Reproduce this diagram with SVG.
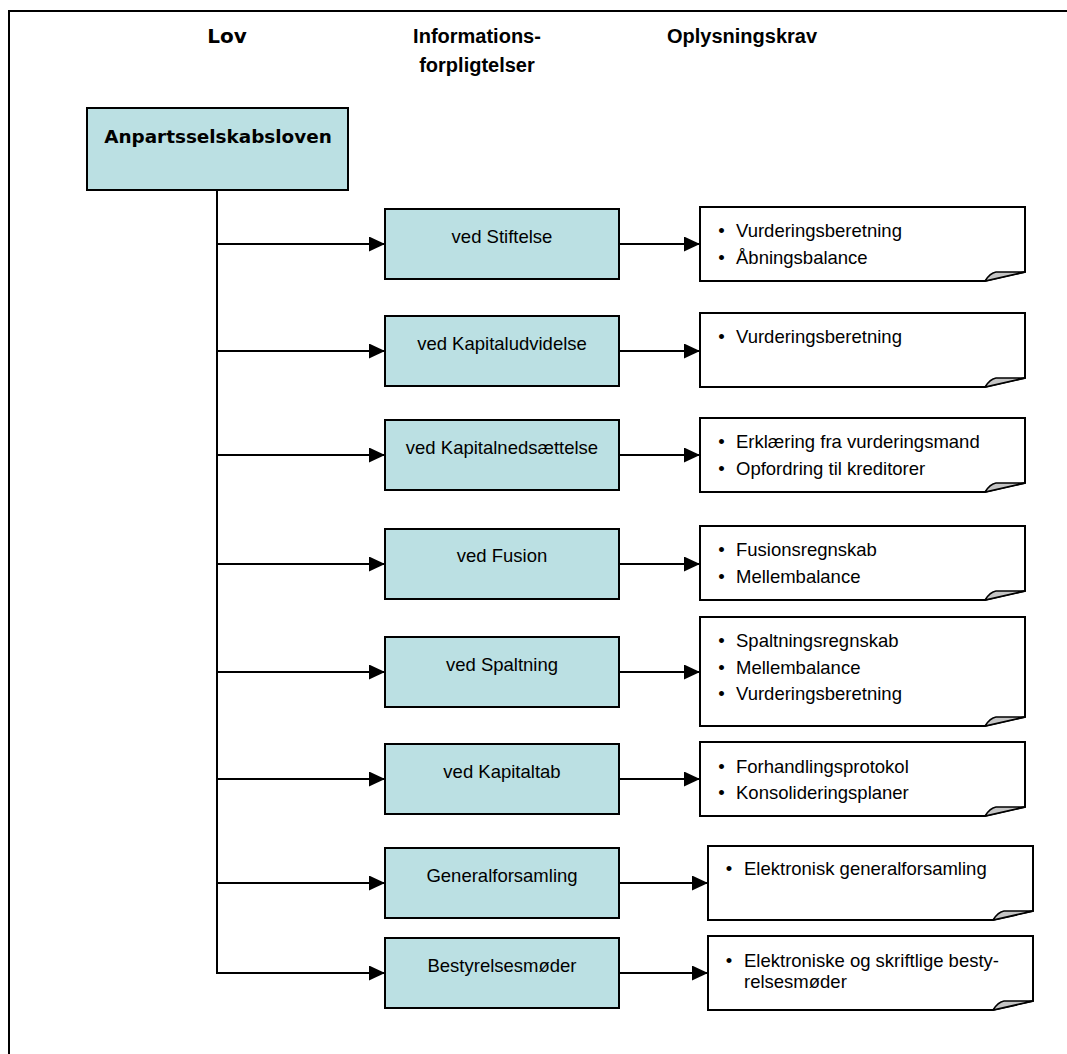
<svg xmlns="http://www.w3.org/2000/svg" width="1067" height="1054" viewBox="0 0 1067 1054">
<style>
.frame{fill:#ffffff;stroke:#000000;stroke-width:2}
.box{fill:#BBE0E3;stroke:#000000;stroke-width:2}
.note{fill:#ffffff;stroke:#000000;stroke-width:2;stroke-linejoin:miter}
.fold{fill:#C4C4C4;stroke:#000000;stroke-width:1.5;stroke-linejoin:round}
.head{font-family:"Liberation Sans",Arial,sans-serif;font-weight:bold;font-size:20px;fill:#000;text-anchor:middle}
.headv{font-family:"DejaVu Sans",Verdana,sans-serif;font-weight:bold;fill:#000;text-anchor:middle}
.lbl{font-family:"Liberation Sans",Arial,sans-serif;font-size:18.5px;fill:#000;text-anchor:middle}
.txt{font-family:"Liberation Sans",Arial,sans-serif;font-size:18.5px;fill:#000}
.bul{font-family:"Liberation Sans",Arial,sans-serif;font-size:18.5px;fill:#000;text-anchor:middle}
.con{fill:none;stroke:#000000;stroke-width:2}
</style>
<defs>
<marker id="arr" viewBox="0 0 16 15" refX="16" refY="7.5" markerWidth="16" markerHeight="15" markerUnits="userSpaceOnUse" orient="auto">
<path d="M0,0 L16,7.5 L0,15 Z" fill="#000"/>
</marker>
</defs>
<rect class="frame" x="9" y="11" width="1080" height="1070"/>
<g id="headers">
<text class="headv" x="227" y="43" font-size="20">Lov</text>
<text class="head" x="477" y="43">Informations-</text>
<text class="head" x="477" y="72">forpligtelser</text>
<text class="head" x="742" y="43" font-size="19.5">Oplysningskrav</text>
</g>
<g id="connectors">
<path class="con" d="M217,190 V973"/>
<path class="con" d="M217,244 H385" marker-end="url(#arr)"/>
<path class="con" d="M217,351 H385" marker-end="url(#arr)"/>
<path class="con" d="M217,455 H385" marker-end="url(#arr)"/>
<path class="con" d="M217,564 H385" marker-end="url(#arr)"/>
<path class="con" d="M217,672 H385" marker-end="url(#arr)"/>
<path class="con" d="M217,779 H385" marker-end="url(#arr)"/>
<path class="con" d="M217,883 H385" marker-end="url(#arr)"/>
<path class="con" d="M216,973 H385" marker-end="url(#arr)"/>
<path class="con" d="M619,244 H700" marker-end="url(#arr)"/>
<path class="con" d="M619,351 H700" marker-end="url(#arr)"/>
<path class="con" d="M619,455 H700" marker-end="url(#arr)"/>
<path class="con" d="M619,564 H700" marker-end="url(#arr)"/>
<path class="con" d="M619,672 H700" marker-end="url(#arr)"/>
<path class="con" d="M619,779 H700" marker-end="url(#arr)"/>
<path class="con" d="M619,883 H708" marker-end="url(#arr)"/>
<path class="con" d="M619,973 H708" marker-end="url(#arr)"/>
</g>
<g id="node-anpartsselskabsloven">
<rect class="box" x="87" y="108" width="261" height="82"/>
<text class="headv" x="218" y="143" font-size="18.4">Anpartsselskabsloven</text>
</g>
<g id="node-stiftelse">
<rect class="box" x="385" y="209" width="234" height="70"/>
<text class="lbl" x="502" y="243">ved Stiftelse</text>
</g>
<g id="node-kapitaludvidelse">
<rect class="box" x="385" y="316" width="234" height="70"/>
<text class="lbl" x="502" y="350">ved Kapitaludvidelse</text>
</g>
<g id="node-kapitalnedsaettelse">
<rect class="box" x="385" y="420" width="234" height="70"/>
<text class="lbl" x="502" y="454">ved Kapitalnedsættelse</text>
</g>
<g id="node-fusion">
<rect class="box" x="385" y="529" width="234" height="70"/>
<text class="lbl" x="502" y="562">ved Fusion</text>
</g>
<g id="node-spaltning">
<rect class="box" x="385" y="637" width="234" height="70"/>
<text class="lbl" x="502" y="671">ved Spaltning</text>
</g>
<g id="node-kapitaltab">
<rect class="box" x="385" y="744" width="234" height="70"/>
<text class="lbl" x="502" y="778">ved Kapitaltab</text>
</g>
<g id="node-generalforsamling">
<rect class="box" x="385" y="848" width="234" height="70"/>
<text class="lbl" x="502" y="882">Generalforsamling</text>
</g>
<g id="node-bestyrelsesmoeder">
<rect class="box" x="385" y="938" width="234" height="70"/>
<text class="lbl" x="502" y="972">Bestyrelsesmøder</text>
</g>
<g id="note-stiftelse">
<path class="note" d="M700,207 H1025 V272 L985,281 H700 Z"/>
<path class="fold" d="M985,281 Q990,273 996,272 L1025,272 Z"/>
<text class="bul" x="721.5" y="237">•</text><text class="txt" x="736" y="237">Vurderingsberetning</text>
<text class="bul" x="721.5" y="264">•</text><text class="txt" x="736" y="264">Åbningsbalance</text>
</g>
<g id="note-kapitaludvidelse">
<path class="note" d="M700,313 H1025 V378 L985,387 H700 Z"/>
<path class="fold" d="M985,387 Q990,379 996,378 L1025,378 Z"/>
<text class="bul" x="721.5" y="343">•</text><text class="txt" x="736" y="343">Vurderingsberetning</text>
</g>
<g id="note-kapitalnedsaettelse">
<path class="note" d="M700,418 H1025 V483 L985,492 H700 Z"/>
<path class="fold" d="M985,492 Q990,484 996,483 L1025,483 Z"/>
<text class="bul" x="721.5" y="448">•</text><text class="txt" x="736" y="448">Erklæring fra vurderingsmand</text>
<text class="bul" x="721.5" y="475">•</text><text class="txt" x="736" y="475">Opfordring til kreditorer</text>
</g>
<g id="note-fusion">
<path class="note" d="M700,526 H1025 V591 L985,600 H700 Z"/>
<path class="fold" d="M985,600 Q990,592 996,591 L1025,591 Z"/>
<text class="bul" x="721.5" y="556">•</text><text class="txt" x="736" y="556">Fusionsregnskab</text>
<text class="bul" x="721.5" y="583">•</text><text class="txt" x="736" y="583">Mellembalance</text>
</g>
<g id="note-spaltning">
<path class="note" d="M700,617 H1025 V717 L985,726 H700 Z"/>
<path class="fold" d="M985,726 Q990,718 996,717 L1025,717 Z"/>
<text class="bul" x="721.5" y="647">•</text><text class="txt" x="736" y="647">Spaltningsregnskab</text>
<text class="bul" x="721.5" y="674">•</text><text class="txt" x="736" y="674">Mellembalance</text>
<text class="bul" x="721.5" y="700">•</text><text class="txt" x="736" y="700">Vurderingsberetning</text>
</g>
<g id="note-kapitaltab">
<path class="note" d="M700,742 H1025 V807 L985,816 H700 Z"/>
<path class="fold" d="M985,816 Q990,808 996,807 L1025,807 Z"/>
<text class="bul" x="721.5" y="773">•</text><text class="txt" x="736" y="773">Forhandlingsprotokol</text>
<text class="bul" x="721.5" y="799">•</text><text class="txt" x="736" y="799">Konsolideringsplaner</text>
</g>
<g id="note-generalforsamling">
<path class="note" d="M708,846 H1033 V911 L993,920 H708 Z"/>
<path class="fold" d="M993,920 Q998,912 1004,911 L1033,911 Z"/>
<text class="bul" x="729" y="875">•</text><text class="txt" x="744" y="875">Elektronisk generalforsamling</text>
</g>
<g id="note-bestyrelsesmoeder">
<path class="note" d="M708,936 H1033 V1001 L993,1010 H708 Z"/>
<path class="fold" d="M993,1010 Q998,1002 1004,1001 L1033,1001 Z"/>
<text class="bul" x="729" y="967">•</text><text class="txt" x="744" y="967">Elektroniske og skriftlige besty-</text>
<text class="txt" x="744" y="988">relsesmøder</text>
</g>
</svg>
